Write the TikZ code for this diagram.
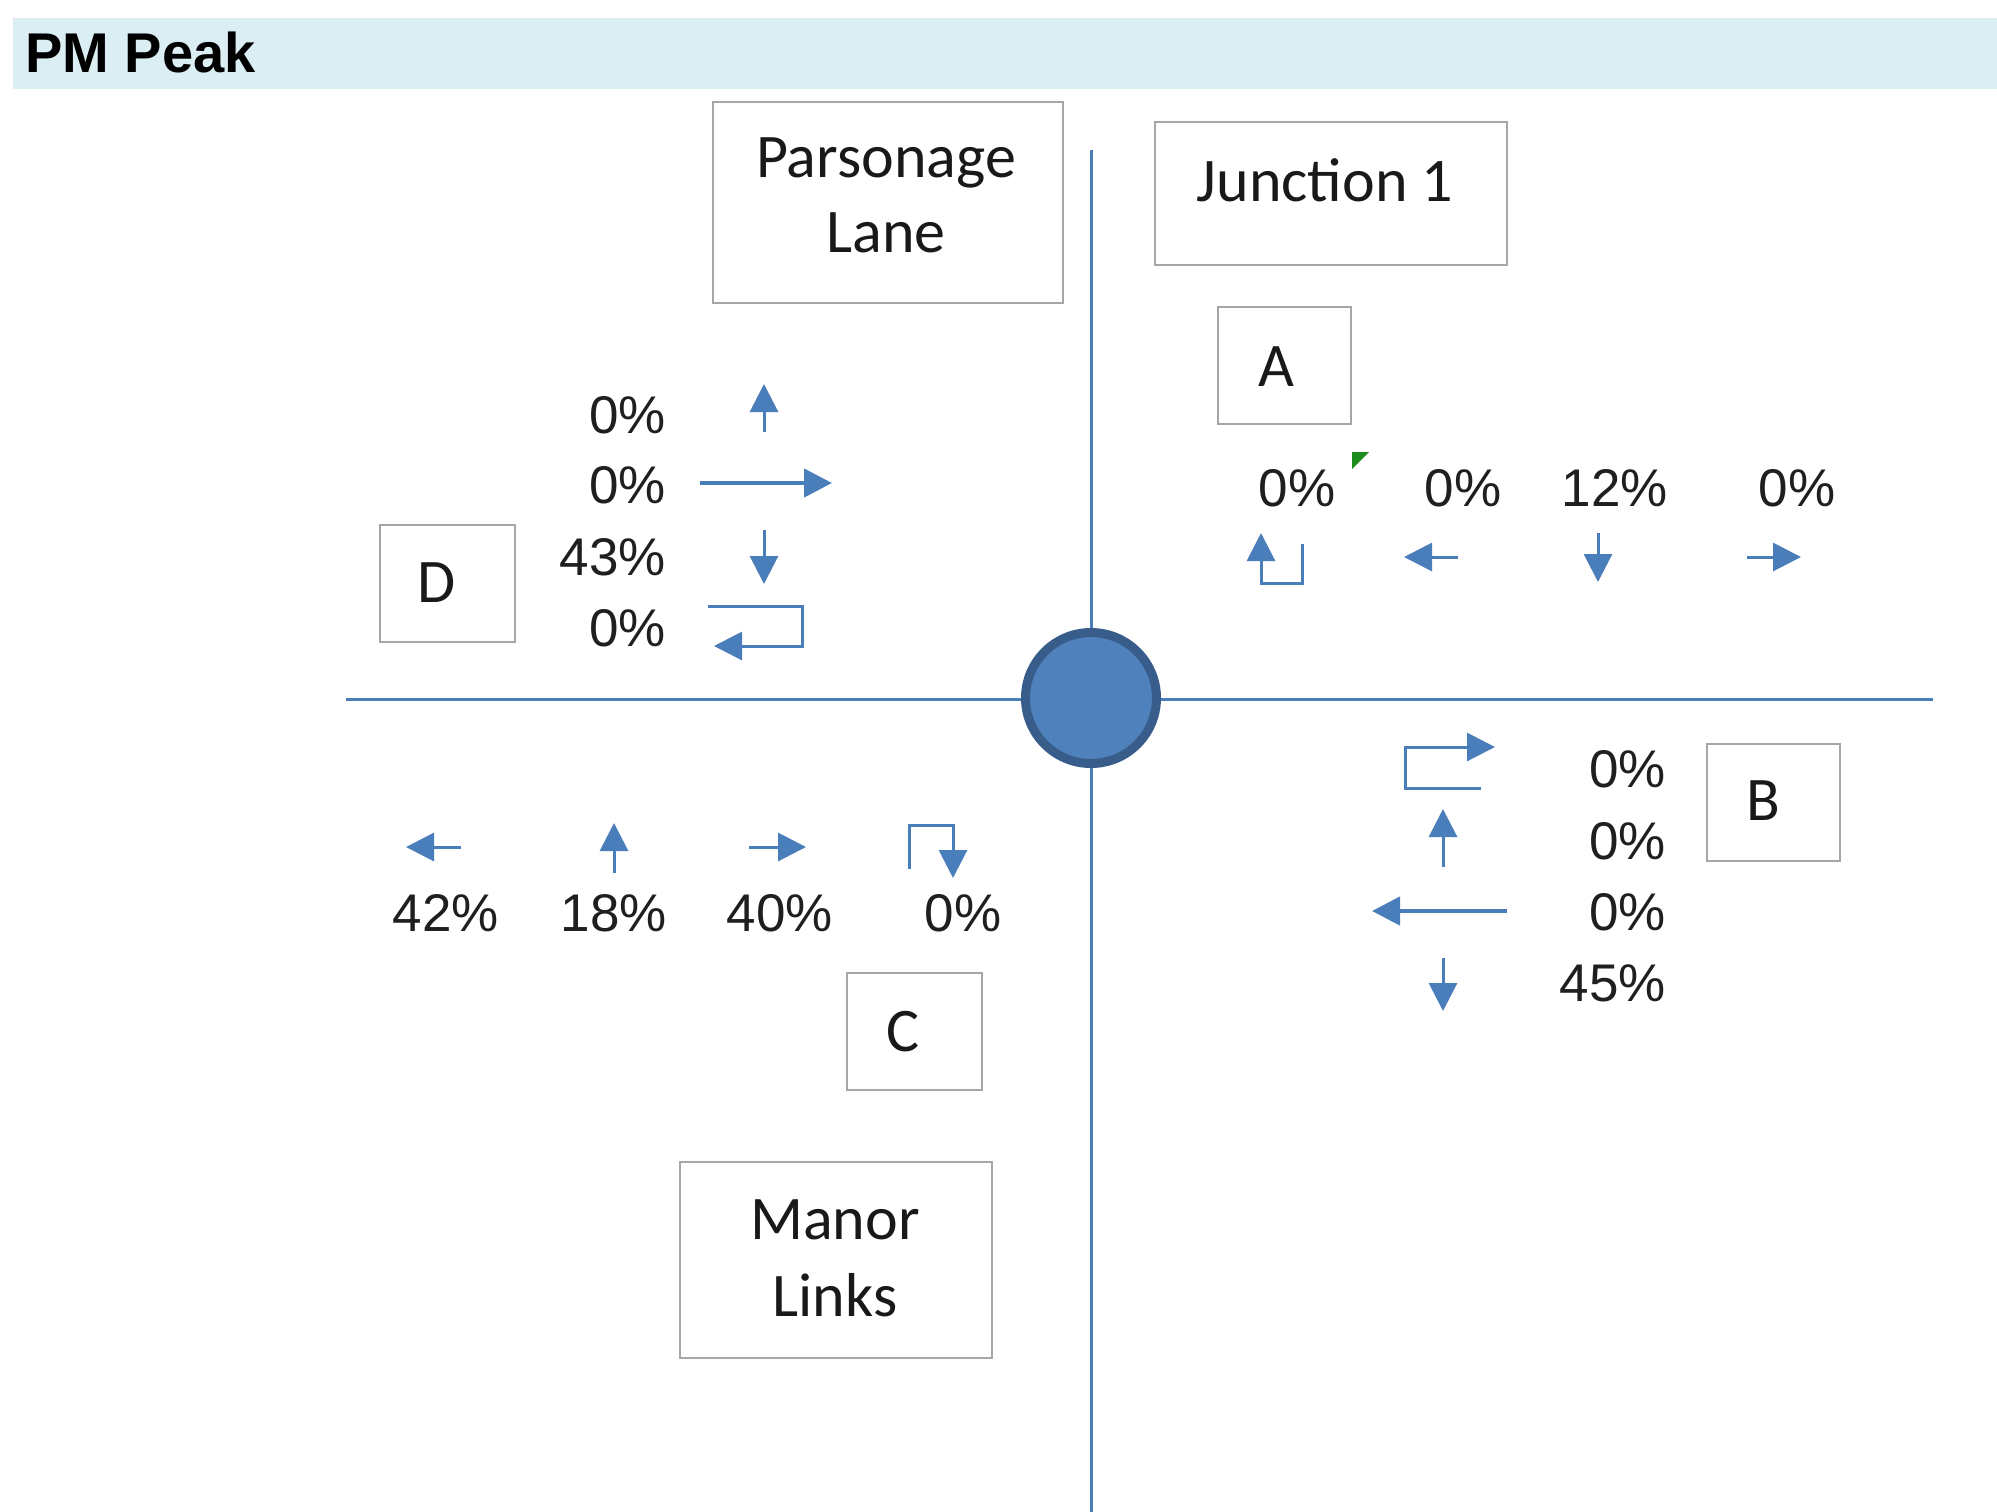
\documentclass[tikz,border=0pt]{standalone}
\usepackage{fontspec}
\setmainfont{Liberation Sans}
\newfontfamily\calib{Carlito}
\usetikzlibrary{arrows.meta}
\definecolor{arrowblue}{HTML}{4A7EBB}
\definecolor{roadblue}{HTML}{4A7EBB}
\definecolor{circfill}{HTML}{4F81BD}
\definecolor{circline}{HTML}{385D8A}
\definecolor{boxgray}{HTML}{A6A6A6}
\definecolor{bandcol}{HTML}{DAEEF3}
\definecolor{notegreen}{HTML}{1E8C1E}
\begin{document}
\begin{tikzpicture}[x=1pt,y=-1pt,
  pct/.style={font=\fontsize{53}{64}\selectfont, inner sep=0pt, text=black!88},
  lbl/.style={font=\calib\fontsize{62}{75}\selectfont, inner sep=0pt, text=black!90},
  frame/.style={draw=boxgray, line width=2.5pt, fill=white, inner sep=0pt},
  arr/.style={draw=arrowblue, line width=3pt, -{Triangle[width=28pt,length=28pt,fill=arrowblue]}},
  longarr/.style={arr, line width=4.5pt},
  road/.style={draw=roadblue, line width=3pt}
]
\useasboundingbox (0,0) rectangle (1997,1512);
\fill[white] (0,0) rectangle (1997,1512);
% header band
\fill[bandcol] (13,18) rectangle (1997,89);
\node[anchor=west, inner sep=0pt, font=\bfseries\fontsize{56}{66}\selectfont] (title) at (25,52) {PM Peak};

% roads
\coordinate (vtop) at (1091,150);
\coordinate (vbot) at (1091,1512);
\coordinate (hleft) at (346,699);
\coordinate (hright) at (1933,699);
\draw[road] (vtop) -- (vbot);
\draw[road] (hleft) -- (hright);
\node[circle, fill=circfill, draw=circline, line width=9pt, minimum size=131pt, inner sep=0pt] (jct) at (1091,698) {};

% boxes
\node[frame, minimum width=350pt, minimum height=201pt] (plbox) at (888,202.5) {};
\node[lbl, anchor=base] (pl1) at (886,177) {Parsonage};
\node[lbl, anchor=base] (pl2) at (886,252) {Lane};

\node[frame, minimum width=352pt, minimum height=143pt] (jbox) at (1331,193.5) {};
\node[lbl, anchor=base] (j1) at (1325,201) {Junction 1};

\node[frame, minimum width=133pt, minimum height=117pt] (abox) at (1284.5,365.5) {};
\node[lbl] (alab) at (1276,367) {A};

\node[frame, minimum width=135pt, minimum height=117pt] (dbox) at (447.5,583.5) {};
\node[lbl] (dlab) at (437,583) {D};

\node[frame, minimum width=133pt, minimum height=117pt] (bbox) at (1773.5,802.5) {};
\node[lbl] (blab) at (1763,801) {B};

\node[frame, minimum width=135pt, minimum height=117pt] (cbox) at (914.5,1031.5) {};
\node[lbl] (clab) at (903,1032) {C};

\node[frame, minimum width=312pt, minimum height=196pt] (mbox) at (836,1260) {};
\node[lbl, anchor=base] (m1) at (835,1239) {Manor};
\node[lbl, anchor=base] (m2) at (835,1316) {Links};

% D group
\node[pct, anchor=east] (d1) at (666,415) {0\%};
\node[pct, anchor=east] (d2) at (666,485) {0\%};
\node[pct, anchor=east] (d3) at (666,557) {43\%};
\node[pct, anchor=east] (d4) at (666,628) {0\%};
\draw[arr] (764,432) -- (764,384);
\draw[longarr] (700,483) -- (832,483);
\draw[arr] (764,530) -- (764,584);
\draw[arr] (708,606) -- (802,606) -- (802,646) -- (714,646);

% A group
\node[pct] (a1) at (1297,488) {0\%};
\node[pct] (a2) at (1463,488) {0\%};
\node[pct] (a3) at (1615,488) {12\%};
\node[pct] (a4) at (1797,488) {0\%};
\fill[notegreen] (1352,452) -- (1369,452) -- (1352,469) -- cycle;
\draw[arr] (1302,544) -- (1302,583) -- (1261,583) -- (1261,533);
\draw[arr] (1458,557) -- (1404,557);
\draw[arr] (1598,533) -- (1598,582);
\draw[arr] (1747,557) -- (1801,557);

% B group
\node[pct, anchor=east] (b1) at (1666,769) {0\%};
\node[pct, anchor=east] (b2) at (1666,841) {0\%};
\node[pct, anchor=east] (b3) at (1666,912) {0\%};
\node[pct, anchor=east] (b4) at (1666,983) {45\%};
\draw[arr] (1481,788) -- (1405,788) -- (1405,747) -- (1495,747);
\draw[arr] (1443,867) -- (1443,809);
\draw[longarr] (1507,911) -- (1372,911);
\draw[arr] (1443,958) -- (1443,1011);

% C group
\node[pct] (c1) at (446,913) {42\%};
\node[pct] (c2) at (614,913) {18\%};
\node[pct] (c3) at (780,913) {40\%};
\node[pct] (c4) at (963,913) {0\%};
\draw[arr] (461,847) -- (406,847);
\draw[arr] (614,873) -- (614,823);
\draw[arr] (749,847) -- (806,847);
\draw[arr] (909,869) -- (909,825) -- (953,825) -- (953,878);
\end{tikzpicture}
\end{document}
